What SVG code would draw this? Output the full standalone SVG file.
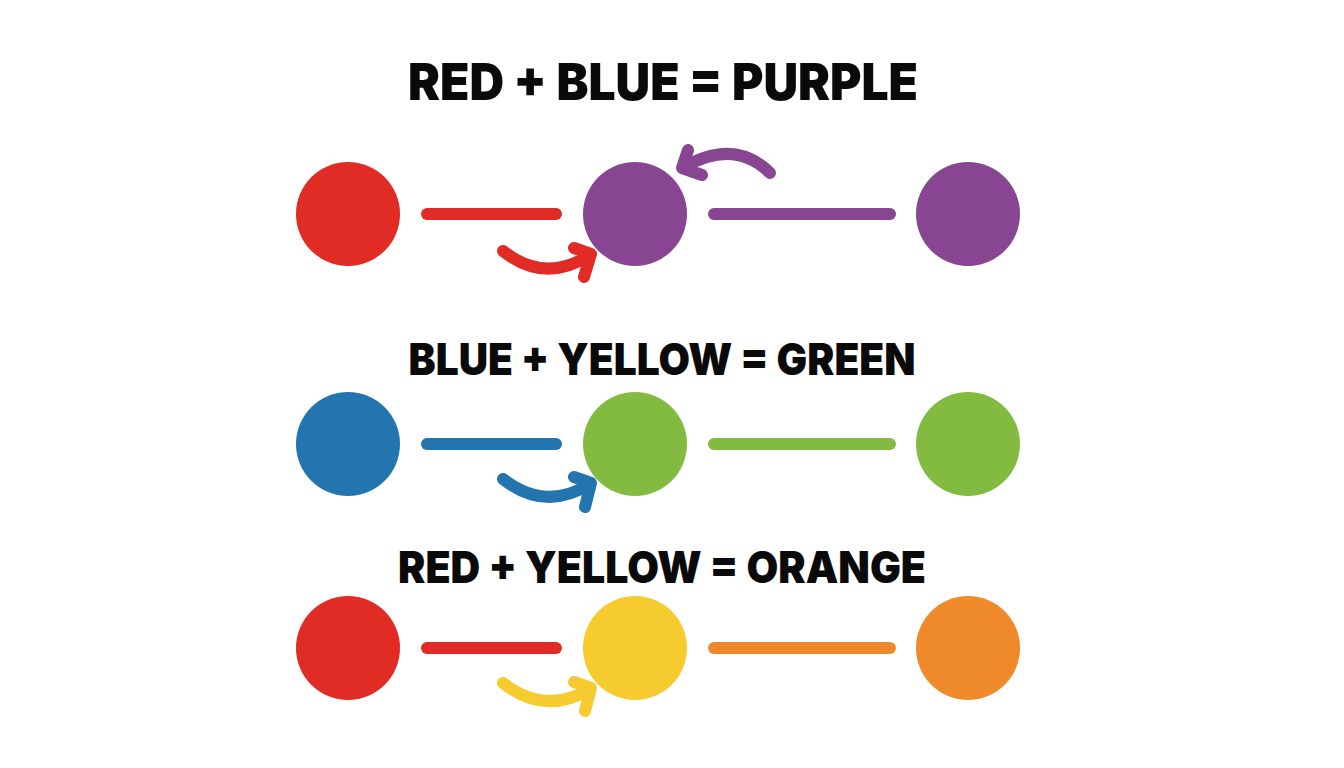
<svg xmlns="http://www.w3.org/2000/svg" width="1344" height="768" viewBox="0 0 1344 768">
  <style>
    .title { font-family: Inter, "Open Sans", "DejaVu Sans", sans-serif; font-weight: 900; fill: #0a0a0a; text-anchor: middle; }
    .bar { stroke-width: 12; stroke-linecap: round; fill: none; }
    .arr { stroke-width: 12; stroke-linecap: round; stroke-linejoin: round; fill: none; }
  </style>
  <rect width="1344" height="768" fill="#ffffff"/>

  <g id="title-purple"><text class="title" x="663" y="100" font-size="51" textLength="510" lengthAdjust="spacingAndGlyphs">RED + BLUE = PURPLE</text></g>
  <g id="title-green"><text class="title" x="662" y="375" font-size="44" textLength="507" lengthAdjust="spacingAndGlyphs">BLUE + YELLOW = GREEN</text></g>
  <g id="title-orange"><text class="title" x="662" y="583" font-size="44" textLength="528" lengthAdjust="spacingAndGlyphs">RED + YELLOW = ORANGE</text></g>

  <g id="row1-red"><circle cx="348" cy="214" r="52" fill="#E12B25"/></g>
  <g id="row1-purple-mix"><circle cx="635" cy="214" r="52" fill="#874592"/></g>
  <g id="row1-purple"><circle cx="968" cy="214" r="52" fill="#874592"/></g>

  <g id="row2-blue"><circle cx="348" cy="444" r="52" fill="#2474B0"/></g>
  <g id="row2-green-mix"><circle cx="635" cy="444" r="52" fill="#83BB41"/></g>
  <g id="row2-green"><circle cx="968" cy="444" r="52" fill="#83BB41"/></g>

  <g id="row3-red"><circle cx="348" cy="648" r="52" fill="#E12B25"/></g>
  <g id="row3-yellow"><circle cx="635" cy="648" r="52" fill="#F6CB2F"/></g>
  <g id="row3-orange"><circle cx="968" cy="648" r="52" fill="#EF8A2A"/></g>

  <g id="connectors">
    <line class="bar" x1="427" y1="214" x2="556" y2="214" stroke="#E12B25"/>
    <line class="bar" x1="714" y1="214" x2="890" y2="214" stroke="#874592"/>
    <line class="bar" x1="427" y1="444" x2="556" y2="444" stroke="#2474B0"/>
    <line class="bar" x1="714" y1="444" x2="890" y2="444" stroke="#83BB41"/>
    <line class="bar" x1="427" y1="648" x2="556" y2="648" stroke="#E12B25"/>
    <line class="bar" x1="714" y1="648" x2="890" y2="648" stroke="#EF8A2A"/>

    <g stroke="#E12B25">
      <path class="arr" d="M503,251 Q545,284 590,255"/>
      <path class="arr" d="M574,248 L591,254 L584,277"/>
    </g>
    <g stroke="#874592">
      <path class="arr" d="M770,173 Q735,138 684,167"/>
      <path class="arr" d="M688,150 L682,168 L702,175"/>
    </g>
    <g stroke="#2474B0">
      <path class="arr" d="M503,479 Q545,512 590,484"/>
      <path class="arr" d="M574,477 L591,483 L585,507"/>
    </g>
    <g stroke="#F6CB2F">
      <path class="arr" d="M503,683 Q545,716 590,689"/>
      <path class="arr" d="M574,682 L591,688 L585,711"/>
    </g>
  </g>
</svg>
